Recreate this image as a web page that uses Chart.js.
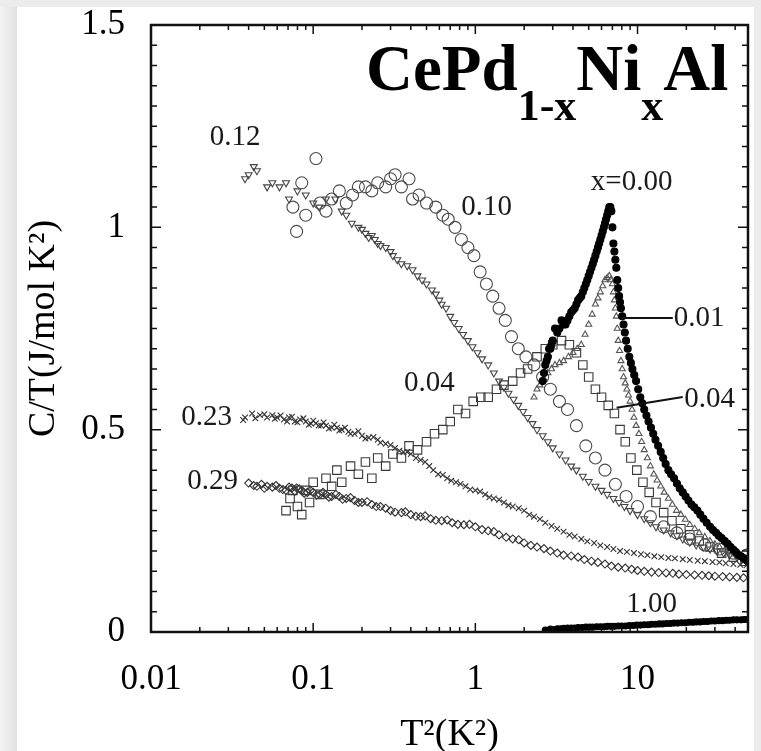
<!DOCTYPE html>
<html>
<head>
<meta charset="utf-8">
<script src="https://cdn.jsdelivr.net/npm/chart.js@4.4.1/dist/chart.umd.min.js"></script>
<style>
  html, body { margin: 0; padding: 0; background: #fff; }
  canvas { display: block; }
</style>
</head>
<body>
<canvas id="heat-chart" width="761" height="751"></canvas>
<script>
// C/T (J/mol K^2) against T^2 (K^2), one array per Ni content x
const x000 = [[2.6,0.62],[2.65,0.64],[2.7,0.66],[2.75,0.67],[2.8,0.68],[2.85,0.70],[2.9,0.70],[2.95,0.71],[3.0,0.72],[3.1,0.75],[3.2,0.74],[3.3,0.75],[3.4,0.77],[3.5,0.76],[3.6,0.76],[3.7,0.77],[3.8,0.78],[3.9,0.79],[4.0,0.795],[4.1,0.80],[4.2,0.81],[4.3,0.82],[4.4,0.825],[4.5,0.83],[4.6,0.84],[4.7,0.85],[4.8,0.86],[4.9,0.87],[5.0,0.88],[5.1,0.89],[5.2,0.90],[5.3,0.91],[5.4,0.92],[5.5,0.93],[5.6,0.94],[5.7,0.95],[5.8,0.96],[5.9,0.97],[6.0,0.98],[6.1,0.99],[6.2,1.0],[6.3,1.01],[6.4,1.02],[6.5,1.03],[6.6,1.04],[6.7,1.05],[6.8,1.05],[6.9,1.04],[7.0,1.00],[7.1,0.96],[7.2,0.94],[7.3,0.92],[7.4,0.90],[7.5,0.87],[7.6,0.85],[7.7,0.83],[7.8,0.815],[7.9,0.80],[8.05,0.78],[8.2,0.76],[8.35,0.74],[8.5,0.72],[8.7,0.70],[8.9,0.68],[9.1,0.665],[9.3,0.65],[9.55,0.635],[9.8,0.62],[10.1,0.60],[10.4,0.58],[10.7,0.565],[11,0.55],[11.35,0.535],[11.7,0.52],[12.1,0.505],[12.5,0.49],[12.9,0.475],[13.4,0.46],[13.9,0.445],[14.4,0.43],[14.9,0.415],[15.5,0.40],[16.1,0.39],[16.8,0.38],[17.5,0.367],[18.2,0.355],[19,0.345],[19.8,0.335],[20.6,0.325],[21.5,0.315],[22.4,0.308],[23.4,0.30],[24.4,0.29],[25.5,0.28],[26.7,0.27],[28,0.26],[29.2,0.252],[30.5,0.245],[31.7,0.238],[33,0.232],[34.5,0.225],[36,0.218],[37.5,0.21],[39,0.203],[40.5,0.197],[42,0.19],[43.5,0.187],[45,0.183],[46.5,0.179],[47.5,0.176]];
const x001 = [[2.3,0.58],[2.4,0.60],[2.5,0.61],[2.65,0.625],[2.8,0.64],[2.95,0.65],[3.1,0.66],[3.3,0.665],[3.5,0.67],[3.75,0.68],[4.0,0.69],[4.25,0.70],[4.5,0.71],[4.75,0.735],[5.0,0.76],[5.25,0.785],[5.5,0.81],[5.7,0.825],[5.9,0.84],[6.1,0.855],[6.3,0.87],[6.5,0.875],[6.7,0.88],[6.85,0.87],[7.0,0.86],[7.1,0.84],[7.2,0.82],[7.3,0.80],[7.4,0.78],[7.5,0.75],[7.6,0.72],[7.75,0.695],[7.9,0.67],[8.05,0.65],[8.2,0.63],[8.4,0.615],[8.6,0.60],[8.8,0.585],[9.0,0.57],[9.25,0.55],[9.5,0.53],[9.8,0.51],[10.2,0.49],[10.6,0.47],[11,0.45],[11.5,0.43],[12,0.41],[12.6,0.39],[13.2,0.375],[13.9,0.36],[14.6,0.345],[15.5,0.33],[16.4,0.315],[17.4,0.30],[18.5,0.29],[19.7,0.278],[21,0.265],[22.5,0.255],[24,0.245],[26,0.235],[28,0.225],[30,0.217],[32,0.21],[34.5,0.203],[37,0.197],[39.5,0.192],[42,0.188],[44.5,0.184],[47,0.18]];
const x004 = [[0.068,0.30],[0.072,0.33],[0.075,0.35],[0.08,0.31],[0.085,0.29],[0.09,0.35],[0.095,0.32],[0.10,0.37],[0.11,0.34],[0.12,0.38],[0.13,0.36],[0.14,0.40],[0.15,0.37],[0.17,0.41],[0.19,0.39],[0.21,0.42],[0.23,0.38],[0.25,0.43],[0.28,0.41],[0.31,0.44],[0.35,0.43],[0.39,0.46],[0.44,0.45],[0.5,0.47],[0.56,0.49],[0.63,0.50],[0.7,0.52],[0.78,0.55],[0.87,0.54],[0.97,0.57],[1.08,0.58],[1.2,0.58],[1.35,0.60],[1.5,0.61],[1.7,0.62],[1.9,0.64],[2.1,0.65],[2.4,0.68],[2.7,0.70],[3.0,0.71],[3.4,0.72],[3.8,0.71],[4.2,0.69],[4.6,0.66],[5.0,0.63],[5.5,0.60],[6.0,0.58],[6.6,0.56],[7.2,0.54],[7.8,0.50],[8.4,0.47],[9.1,0.43],[9.9,0.40],[10.8,0.37],[11.8,0.345],[13,0.32],[14.5,0.295],[16.3,0.275],[18.5,0.255],[21,0.24],[24,0.225],[28,0.21],[33,0.195],[39,0.185],[46,0.175]];
const x010 = [[0.075,1.05],[0.079,0.99],[0.085,1.11],[0.09,1.03],[0.104,1.17],[0.11,1.06],[0.12,1.04],[0.13,1.07],[0.145,1.09],[0.16,1.06],[0.175,1.08],[0.19,1.10],[0.21,1.10],[0.23,1.09],[0.25,1.11],[0.28,1.10],[0.30,1.12],[0.32,1.13],[0.35,1.10],[0.39,1.12],[0.41,1.07],[0.45,1.08],[0.5,1.06],[0.57,1.05],[0.63,1.03],[0.68,1.02],[0.75,1.00],[0.82,0.97],[0.9,0.95],[0.98,0.93],[1.07,0.89],[1.17,0.86],[1.28,0.83],[1.4,0.80],[1.53,0.77],[1.67,0.73],[1.84,0.70],[2.05,0.68],[2.3,0.66],[2.6,0.63],[2.9,0.60],[3.3,0.57],[3.7,0.55],[4.2,0.51],[4.8,0.46],[5.5,0.43],[6.3,0.40],[7.3,0.365],[8.5,0.335],[10,0.31],[12,0.285],[14.5,0.26],[17.5,0.245],[21,0.23],[26,0.215],[32,0.205],[39,0.195],[47,0.19]];
const x012 = [[0.038,1.12],[0.04,1.13],[0.043,1.15],[0.045,1.14],[0.052,1.10],[0.056,1.11],[0.062,1.10],[0.068,1.11],[0.071,1.07],[0.08,1.09],[0.09,1.08],[0.1,1.06],[0.109,1.05],[0.12,1.07],[0.137,1.07],[0.15,1.04],[0.16,1.03],[0.173,1.01],[0.19,1.00],[0.2,0.995],[0.21,0.985],[0.22,0.975],[0.23,0.98],[0.24,0.97],[0.25,0.96],[0.26,0.955],[0.28,0.95],[0.3,0.94],[0.31,0.93],[0.33,0.92],[0.35,0.91],[0.38,0.905],[0.41,0.895],[0.44,0.88],[0.47,0.87],[0.5,0.86],[0.54,0.845],[0.57,0.835],[0.6,0.82],[0.62,0.81],[0.66,0.80],[0.7,0.78],[0.74,0.765],[0.79,0.75],[0.84,0.735],[0.9,0.72],[0.96,0.705],[1.03,0.69],[1.1,0.675],[1.2,0.66],[1.3,0.64],[1.4,0.62],[1.5,0.605],[1.6,0.59],[1.72,0.575],[1.84,0.56],[1.97,0.545],[2.1,0.53],[2.25,0.515],[2.4,0.50],[2.6,0.485],[2.8,0.47],[3.0,0.455],[3.3,0.44],[3.6,0.425],[3.9,0.41],[4.2,0.40],[4.6,0.385],[5.0,0.372],[5.5,0.36],[6.0,0.35],[6.5,0.34],[7.1,0.33],[7.7,0.32],[8.3,0.31],[9,0.30],[10,0.29],[11,0.28],[12,0.27],[13,0.26],[14.5,0.252],[16,0.245],[17.5,0.238],[19,0.23],[21,0.222],[23,0.215],[25.5,0.21],[28,0.205],[31,0.20],[34,0.195],[37,0.19],[41,0.185],[44,0.182],[47,0.18]];
const x023 = [[0.037,0.524],[0.038,0.53],[0.042,0.54],[0.044,0.528],[0.047,0.536],[0.05,0.538],[0.052,0.53],[0.056,0.536],[0.058,0.527],[0.06,0.53],[0.063,0.535],[0.066,0.525],[0.069,0.52],[0.071,0.53],[0.074,0.532],[0.077,0.52],[0.08,0.518],[0.083,0.525],[0.087,0.528],[0.09,0.52],[0.094,0.512],[0.097,0.515],[0.1,0.522],[0.104,0.516],[0.108,0.51],[0.112,0.51],[0.116,0.518],[0.12,0.51],[0.125,0.503],[0.13,0.505],[0.135,0.512],[0.14,0.505],[0.145,0.498],[0.15,0.50],[0.157,0.505],[0.165,0.495],[0.17,0.49],[0.18,0.49],[0.19,0.496],[0.2,0.485],[0.21,0.478],[0.22,0.48],[0.235,0.482],[0.25,0.475],[0.26,0.468],[0.28,0.465],[0.3,0.462],[0.32,0.455],[0.34,0.448],[0.36,0.445],[0.38,0.445],[0.4,0.44],[0.43,0.43],[0.46,0.425],[0.49,0.42],[0.52,0.41],[0.55,0.40],[0.59,0.39],[0.63,0.388],[0.67,0.38],[0.71,0.374],[0.76,0.37],[0.81,0.366],[0.87,0.36],[0.93,0.352],[1.0,0.35],[1.07,0.347],[1.15,0.34],[1.22,0.333],[1.3,0.33],[1.4,0.327],[1.5,0.32],[1.6,0.313],[1.7,0.31],[1.85,0.306],[2.0,0.30],[2.15,0.29],[2.3,0.285],[2.5,0.279],[2.7,0.27],[2.95,0.262],[3.2,0.255],[3.5,0.248],[3.8,0.24],[4.1,0.236],[4.5,0.23],[4.9,0.224],[5.4,0.22],[5.9,0.214],[6.5,0.21],[7.1,0.205],[7.8,0.20],[8.6,0.198],[9.5,0.195],[10.5,0.192],[11.5,0.19],[12.7,0.187],[14,0.185],[15.5,0.183],[17,0.182],[19,0.18],[21,0.178],[23.5,0.176],[26,0.175],[29,0.173],[32,0.172],[35,0.17],[39,0.168],[43,0.166],[47,0.165]];
const x029 = [[0.04,0.368],[0.043,0.362],[0.045,0.36],[0.048,0.365],[0.05,0.355],[0.052,0.36],[0.056,0.358],[0.059,0.362],[0.062,0.355],[0.065,0.352],[0.068,0.35],[0.071,0.358],[0.074,0.356],[0.077,0.348],[0.079,0.356],[0.082,0.354],[0.085,0.35],[0.088,0.343],[0.092,0.345],[0.096,0.35],[0.1,0.345],[0.105,0.338],[0.11,0.34],[0.115,0.345],[0.12,0.34],[0.125,0.333],[0.13,0.335],[0.138,0.34],[0.145,0.335],[0.152,0.328],[0.16,0.33],[0.17,0.332],[0.18,0.325],[0.19,0.32],[0.2,0.32],[0.215,0.322],[0.23,0.315],[0.245,0.31],[0.26,0.31],[0.28,0.306],[0.3,0.30],[0.32,0.296],[0.35,0.295],[0.37,0.297],[0.4,0.29],[0.43,0.286],[0.46,0.285],[0.49,0.287],[0.53,0.28],[0.57,0.276],[0.62,0.275],[0.67,0.277],[0.72,0.27],[0.78,0.266],[0.85,0.265],[0.92,0.266],[1.0,0.26],[1.1,0.253],[1.2,0.25],[1.3,0.248],[1.4,0.24],[1.55,0.234],[1.7,0.23],[1.85,0.228],[2.0,0.22],[2.2,0.214],[2.4,0.21],[2.65,0.206],[2.9,0.20],[3.2,0.195],[3.5,0.19],[3.9,0.188],[4.3,0.185],[4.7,0.179],[5.2,0.175],[5.7,0.172],[6.3,0.168],[6.9,0.163],[7.6,0.16],[8.4,0.158],[9.2,0.155],[10,0.152],[11,0.15],[12.2,0.148],[13.5,0.147],[15,0.146],[16.5,0.145],[18,0.143],[20,0.142],[22.5,0.141],[25,0.14],[27.5,0.139],[30,0.138],[33.5,0.137],[37,0.136],[41,0.135],[45,0.134]];
const x100 = [[2.7,0.005],[2.9,0.007],[3.0,0.006],[3.2,0.008],[3.35,0.008],[3.5,0.009],[3.7,0.01],[3.9,0.01],[4.1,0.01],[4.3,0.011],[4.55,0.011],[4.8,0.012],[5.05,0.012],[5.3,0.012],[5.6,0.013],[5.9,0.013],[6.2,0.013],[6.5,0.014],[6.85,0.014],[7.2,0.014],[7.6,0.015],[8,0.015],[8.45,0.015],[8.9,0.016],[9.4,0.016],[9.9,0.017],[10.45,0.017],[11,0.018],[11.6,0.018],[12.2,0.019],[12.9,0.019],[13.6,0.02],[14.3,0.02],[15.1,0.021],[15.9,0.021],[16.8,0.022],[17.7,0.022],[18.7,0.023],[19.7,0.023],[20.8,0.024],[21.9,0.024],[23,0.025],[24.3,0.025],[25.6,0.026],[27,0.026],[28.5,0.027],[30,0.027],[31.7,0.028],[33.5,0.028],[35.3,0.029],[37,0.029],[39,0.03],[41,0.03],[43.5,0.03],[45.5,0.031],[47.5,0.031]];

const xTicks = [0.01, 0.1, 1, 10];
const xTickLabels = ['0.01', '0.1', '1', '10'];
const yTicks = [0, 0.5, 1, 1.5];
const yTickLabels = ['0', '0.5', '1', '1.5'];

// curve labels, placed in data units
const notes = [
    { text: '0.12', x: 0.033, y: 1.223, align: 'center' },
    { text: '0.10', x: 1.175, y: 1.05, align: 'center' },
    { text: 'x=0.00', x: 9.2, y: 1.11, align: 'center' },
    { text: '0.04', x: 0.52, y: 0.615, align: 'center' },
    { text: '0.23', x: 0.022, y: 0.531, align: 'center' },
    { text: '0.29', x: 0.024, y: 0.371, align: 'center' },
    { text: '1.00', x: 12.2, y: 0.069, align: 'center' },
    { text: '0.01', x: 16.7, y: 0.776, align: 'left' },
    { text: '0.04', x: 19.4, y: 0.575, align: 'left' }
];
const leaders = [
    { from: [7.87, 0.776], to: [16.5, 0.776] },
    { from: [7.43, 0.554], to: [19.0, 0.581] }
];

const serif = '"Liberation Serif", "Times New Roman", serif';

function openSet(data, style, radius, extra) {
    return Object.assign({
        data: data.map(p => ({ x: p[0], y: p[1] })),
        pointStyle: style,
        pointRadius: radius,
        borderColor: '#3a3a3a',
        backgroundColor: 'rgba(0,0,0,0)',
        borderWidth: 1.1,
        showLine: false
    }, extra || {});
}

const frame = {
    id: 'frame',
    beforeDraw(chart) {
        const c = chart.ctx;
        c.save();
        c.fillStyle = '#ececec';
        c.fillRect(0, 0, chart.width, chart.height);
        const g = c.createLinearGradient(0, 0, 17, 0);
        g.addColorStop(0, '#f4f4f4');
        g.addColorStop(1, '#e2e2e2');
        c.fillStyle = g;
        c.fillRect(0, 7, 17, chart.height);
        c.fillStyle = '#fff';
        c.fillRect(17, 7, 737, chart.height - 7);
        c.restore();
    },
    afterDatasetsDraw(chart) {
        const { ctx: c, chartArea: a, scales } = chart;
        const sx = scales.x, sy = scales.y;
        c.save();
        c.strokeStyle = '#111';
        c.lineWidth = 2.5;
        c.strokeRect(a.left, a.top, a.right - a.left, a.bottom - a.top);

        // inward ticks on all four sides
        c.lineWidth = 1.5;
        c.beginPath();
        for (let d = 0.01; d < 100; d *= 10) {
            for (let m = 1; m <= 9; m++) {
                const v = d * m;
                if (v <= sx.min || v >= sx.max) continue;
                const px = sx.getPixelForValue(v);
                const len = m === 1 ? 9 : 5;
                c.moveTo(px, a.bottom); c.lineTo(px, a.bottom - len);
                c.moveTo(px, a.top); c.lineTo(px, a.top + len);
            }
        }
        for (let i = 1; i < 30; i++) {
            const v = i * 0.05;
            const py = sy.getPixelForValue(v);
            const len = i % 10 === 0 ? 10 : 6;
            c.moveTo(a.left, py); c.lineTo(a.left + len, py);
            c.moveTo(a.right, py); c.lineTo(a.right - len, py);
        }
        c.stroke();

        // leader lines
        c.lineWidth = 2;
        c.beginPath();
        leaders.forEach(l => {
            c.moveTo(sx.getPixelForValue(l.from[0]), sy.getPixelForValue(l.from[1]));
            c.lineTo(sx.getPixelForValue(l.to[0]), sy.getPixelForValue(l.to[1]));
        });
        c.stroke();

        // curve labels
        c.fillStyle = '#1a1a1a';
        c.font = '29px ' + serif;
        c.textBaseline = 'middle';
        notes.forEach(n => {
            c.textAlign = n.align;
            c.fillText(n.text, sx.getPixelForValue(n.x), sy.getPixelForValue(n.y));
        });

        // compound name with subscripts
        c.fillStyle = '#000';
        c.textAlign = 'left';
        c.textBaseline = 'alphabetic';
        const parts = [['CePd', 0], ['1-x', 1], ['Ni', 0], ['x', 1], ['Al', 0]];
        let tx = 366;
        parts.forEach(p => {
            c.font = 'bold ' + (p[1] ? 44 : 65) + 'px ' + serif;
            c.fillText(p[0], tx, p[1] ? 120 : 90);
            tx += c.measureText(p[0]).width;
        });
        c.restore();
    }
};

new Chart(document.getElementById('heat-chart'), {
    type: 'scatter',
    data: {
        datasets: [
            openSet(x000, 'circle', 3.5, { backgroundColor: '#000', borderColor: '#000' }),
            openSet(x001, 'triangle', 3.5, { borderColor: '#555' }),
            openSet(x004, 'rect', 6),
            openSet(x010, 'circle', 6, { borderColor: '#4a4a4a' }),
            openSet(x012, 'triangle', 4, { rotation: 180, borderColor: '#444' }),
            openSet(x023, 'crossRot', 4, { borderColor: '#333' }),
            openSet(x029, 'rectRot', 4, { borderColor: '#333' }),
            openSet(x100, 'circle', 3, { backgroundColor: '#000', borderColor: '#000' })
        ]
    },
    options: {
        responsive: false,
        animation: false,
        layout: { padding: { left: 0, top: 25, right: 13, bottom: 0 } },
        plugins: { legend: { display: false }, tooltip: { enabled: false } },
        scales: {
            x: {
                type: 'logarithmic',
                position: 'bottom',
                min: 0.01,
                max: 48,
                grid: { display: false },
                border: { display: false },
                afterBuildTicks: s => { s.ticks = xTicks.map(v => ({ value: v })); },
                afterFit: s => { s.height = 119; s.paddingLeft = 0; s.paddingRight = 0; },
                ticks: {
                    autoSkip: false,
                    maxRotation: 0,
                    padding: 19,
                    color: '#000',
                    font: { family: serif, size: 35 },
                    callback: v => xTickLabels[xTicks.indexOf(v)]
                },
                title: {
                    display: true,
                    text: 'T²(K²)',
                    color: '#000',
                    font: { family: serif, size: 38, lineHeight: 0.8 },
                    padding: { top: 0, bottom: 1 }
                }
            },
            y: {
                min: 0,
                max: 1.5,
                grid: { display: false },
                border: { display: false },
                afterBuildTicks: s => { s.ticks = yTicks.map(v => ({ value: v })); },
                afterFit: s => { s.width = 151; s.paddingTop = 0; s.paddingBottom = 0; },
                ticks: {
                    padding: 18,
                    color: '#000',
                    font: { family: serif, size: 35 },
                    callback: v => yTickLabels[yTicks.indexOf(v)]
                },
                title: {
                    display: true,
                    text: 'C/T(J/mol K²)',
                    color: '#000',
                    font: { family: serif, size: 38 },
                    padding: { top: 21, bottom: 0 }
                }
            }
        }
    },
    plugins: [frame]
});
</script>
</body>
</html>
